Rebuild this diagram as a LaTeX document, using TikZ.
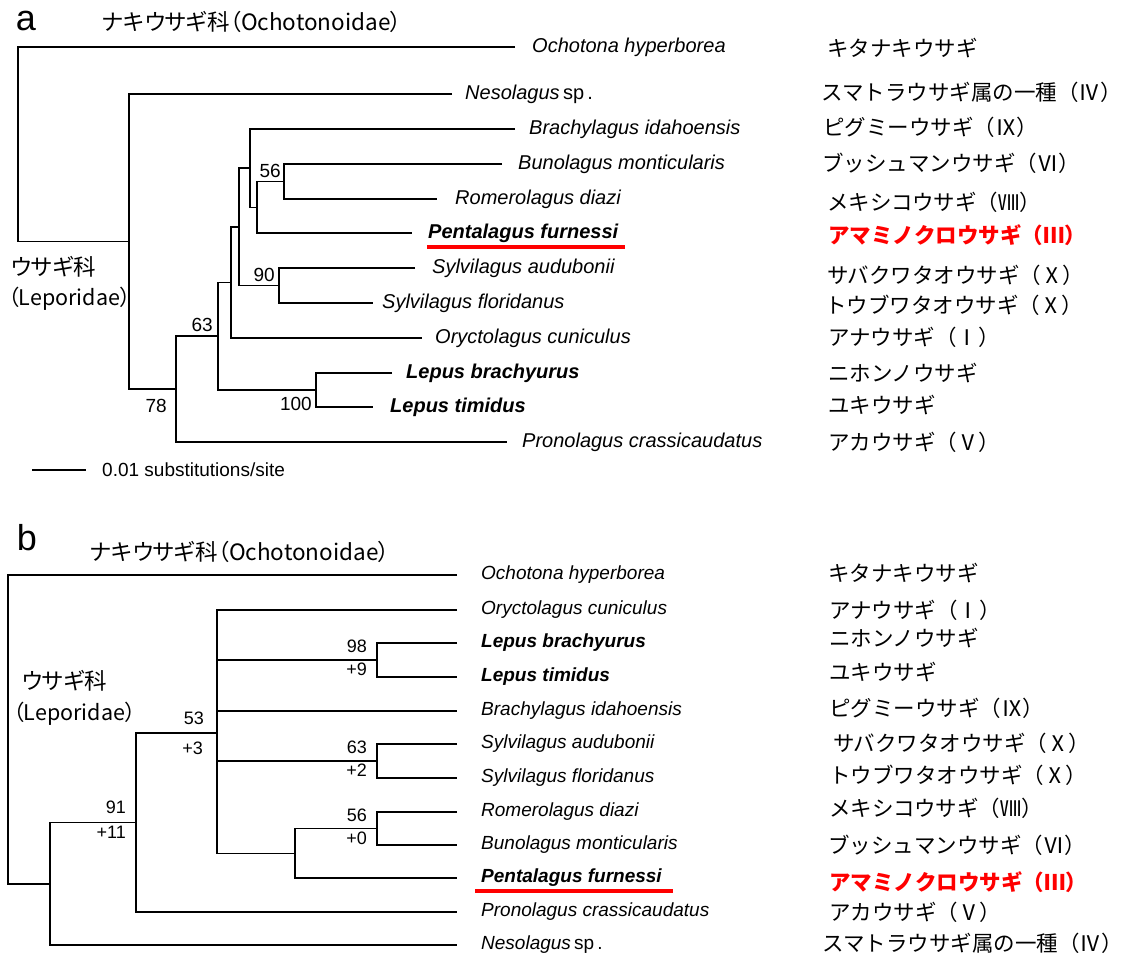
\documentclass[tikz,border=0pt]{standalone}
\usepackage{fontspec}
\setmainfont{Liberation Sans}
\newfontfamily\jpfont{Noto Sans CJK JP}
\newfontfamily\jpfontp[RawFeature=+palt]{Noto Sans CJK JP}
\usetikzlibrary{positioning}

\tikzstyle{branch} = [line width=1.5pt]
\tikzstyle{taxon} = [inner sep=0pt, anchor=west, font=\fontsize{20}{24}\selectfont\itshape]
\tikzstyle{taxbold} = [taxon, font=\fontsize{20}{24}\selectfont\bfseries\itshape]
\tikzstyle{taxonb} = [taxon, font=\fontsize{19}{23}\selectfont\itshape]
\tikzstyle{taxboldb} = [taxon, font=\fontsize{19}{23}\selectfont\bfseries\itshape]
\tikzstyle{boot} = [inner sep=0pt, font=\fontsize{19}{23}\selectfont]
\tikzstyle{bootb} = [inner sep=0pt, font=\fontsize{18}{22}\selectfont]
\tikzstyle{jp} = [inner sep=0pt, anchor=west, font=\fontsize{21.5}{26}\selectfont\jpfont]
\tikzstyle{jpp} = [jp, font=\fontsize{22.5}{26}\selectfont\jpfontp]
\tikzstyle{fam} = [jp, font=\fontsize{21.5}{26}\selectfont\jpfontp]
\tikzstyle{jpred} = [jp, text=red, font=\fontsize{21.5}{26}\selectfont\jpfont\bfseries]
\tikzstyle{redline} = [red, line width=4pt]
\tikzstyle{panel} = [inner sep=0pt, font=\fontsize{36}{40}\selectfont]

\begin{document}
\begin{tikzpicture}[x=1pt, y=-1pt]
\useasboundingbox (0,0) rectangle (1124,958);

% ---------- panel a ----------
\node[panel] (alab) at (26,21) {a};
\node[jpp] (atitle) at (102,22) {ナキウサギ科（Ochotonoidae）};
\node[jpp] (afam) at (11,267) {ウサギ科};
\node[fam] (afamL) at (8,299) {（Leporidae）};

% tips
\coordinate (aOch) at (515,47);
\coordinate (aNes) at (452,94);
\coordinate (aBra) at (515,129);
\coordinate (aBun) at (502,164);
\coordinate (aRom) at (437,199);
\coordinate (aPen) at (412,233);
\coordinate (aSyA) at (415,268);
\coordinate (aSyF) at (373,303);
\coordinate (aOry) at (422,338);
\coordinate (aLeB) at (392,373);
\coordinate (aLeT) at (373,407);
\coordinate (aPro) at (507,442);
% inner nodes
\coordinate (aRoot) at (18,144);
\coordinate (aLep) at (129,241.6);
\coordinate (aN78) at (176,389.1);
\coordinate (aN63) at (218,336.2);
\coordinate (aNL) at (316,390);
\coordinate (aNO) at (231,282.4);
\coordinate (aNS) at (239,226.8);
\coordinate (aN90) at (279,285.5);
\coordinate (aNB) at (250,168.1);
\coordinate (aNBRP) at (257,207.25);
\coordinate (aN56) at (284,181.5);

\draw[branch] (aOch) -| (aRoot) |- (aLep);
\draw[branch] (aNes) -| (aLep) |- (aN78);
\draw[branch] (aN63) -| (aN78) |- (aPro);
\draw[branch] (aNO) -| (aN63) |- (aNL);
\draw[branch] (aLeB) -| (aNL) |- (aLeT);
\draw[branch] (aNS) -| (aNO) |- (aOry);
\draw[branch] (aNB) -| (aNS) |- (aN90);
\draw[branch] (aSyA) -| (aN90) |- (aSyF);
\draw[branch] (aBra) -| (aNB) |- (aNBRP);
\draw[branch] (aN56) -| (aNBRP) |- (aPen);
\draw[branch] (aBun) -| (aN56) |- (aRom);

\node[taxon, right=17pt of aOch] (aOchT) {Ochotona hyperborea};
\node[taxon, right=13pt of aNes] (aNesT) {Nesolagus\,\textup{sp\,.}};
\node[taxon, right=14pt of aBra] (aBraT) {Brachylagus idahoensis};
\node[taxon, right=16pt of aBun] (aBunT) {Bunolagus monticularis};
\node[taxon, right=18pt of aRom] (aRomT) {Romerolagus diazi};
\node[taxbold, right=16pt of aPen] (aPenT) {Pentalagus furnessi};
\node[taxon, right=17pt of aSyA] (aSyAT) {Sylvilagus audubonii};
\node[taxon, right=9pt of aSyF] (aSyFT) {Sylvilagus floridanus};
\node[taxon, right=13pt of aOry] (aOryT) {Oryctolagus cuniculus};
\node[taxbold, right=14pt of aLeB] (aLeBT) {Lepus brachyurus};
\node[taxbold, right=17pt of aLeT] (aLeTT) {Lepus timidus};
\node[taxon, right=15pt of aPro] (aProT) {Pronolagus crassicaudatus};
\draw[redline] ([xshift=-1pt,yshift=-4pt]aPenT.south west) -- ([xshift=7pt,yshift=-4pt]aPenT.south east);

\node[boot, above left=4pt and 3pt of aN56] (a56) {56};
\node[boot, above left=4pt and 4pt of aN90] (a90) {90};
\node[boot, above left=4pt and 5pt of aN63] (a63) {63};
\node[boot, below left=7pt and 4pt of aNL] (a100) {100};
\node[boot, below left=10pt and 9pt of aN78] (a78) {78};

% scale bar
\coordinate (sbL) at (32,470);
\coordinate (sbR) at (86,470);
\draw[line width=1.2pt] (sbL) -- (sbR);
\node[boot, right=16pt of sbR] (sbT) {0.01 substitutions/site};

\node[jp] (aOchJ) at (827,48) {キタナキウサギ};
\node[jp] (aNesJ) at (821,92) {スマトラウサギ属の一種（Ⅳ）};
\node[jp] (aBraJ) at (823,127) {ピグミーウサギ（Ⅸ）};
\node[jp] (aBunJ) at (822,163) {ブッシュマンウサギ（Ⅵ）};
\node[jp] (aRomJ) at (827,202) {メキシコウサギ（Ⅷ）};
\node[jpred] (aPenJ) at (828,235) {アマミノクロウサギ（Ⅲ）};
\node[jp] (aSyAJ) at (827,275) {サバクワタオウサギ（Ⅹ）};
\node[jp] (aSyFJ) at (825,305) {トウブワタオウサギ（Ⅹ）};
\node[jp] (aOryJ) at (828,337) {アナウサギ（Ⅰ）};
\node[jp] (aLeBJ) at (828,373) {ニホンノウサギ};
\node[jp] (aLeTJ) at (828,405) {ユキウサギ};
\node[jp] (aProJ) at (828,442) {アカウサギ（Ⅴ）};

% ---------- panel b ----------
\node[panel] (blab) at (27,538) {b};
\node[jpp] (btitle) at (90,552) {ナキウサギ科（Ochotonoidae）};
\node[jpp] (bfam) at (22,681) {ウサギ科};
\node[fam] (bfamL) at (13,714) {（Leporidae）};

% tips
\coordinate (bOch) at (457,575);
\coordinate (bOry) at (457,610);
\coordinate (bLeB) at (457,643);
\coordinate (bLeT) at (457,677);
\coordinate (bBra) at (457,711);
\coordinate (bSyA) at (457,744);
\coordinate (bSyF) at (457,778);
\coordinate (bRom) at (457,812);
\coordinate (bBun) at (457,845);
\coordinate (bPen) at (457,878);
\coordinate (bPro) at (457,912);
\coordinate (bNes) at (457,945);
% inner nodes
\coordinate (bRoot) at (8,729);
\coordinate (bNN) at (50,883.75);
\coordinate (bN91) at (136,822.5);
\coordinate (bN53) at (217,733);
\coordinate (bNL) at (377,660);
\coordinate (bNS) at (377,761);
\coordinate (bNRB) at (377,828.5);
\coordinate (bNRBP) at (295,853.25);

\draw[branch] (bOch) -| (bRoot) |- (bNN);
\draw[branch] (bN91) -| (bNN) |- (bNes);
\draw[branch] (bN53) -| (bN91) |- (bPro);
\draw[branch] (bOry) -| (bN53) |- (bNRBP);
\draw[branch] (bN53) |- (bNL);
\draw[branch] (bN53) |- (bBra);
\draw[branch] (bN53) |- (bNS);
\draw[branch] (bLeB) -| (bNL) |- (bLeT);
\draw[branch] (bSyA) -| (bNS) |- (bSyF);
\draw[branch] (bNRB) -| (bNRBP) |- (bPen);
\draw[branch] (bRom) -| (bNRB) |- (bBun);

\node[taxonb, right=24pt of bOch] (bOchT) {Ochotona hyperborea};
\node[taxonb, right=24pt of bOry] (bOryT) {Oryctolagus cuniculus};
\node[taxboldb, right=24pt of bLeB] (bLeBT) {Lepus brachyurus};
\node[taxboldb, right=24pt of bLeT] (bLeTT) {Lepus timidus};
\node[taxonb, right=24pt of bBra] (bBraT) {Brachylagus idahoensis};
\node[taxonb, right=24pt of bSyA] (bSyAT) {Sylvilagus audubonii};
\node[taxonb, right=24pt of bSyF] (bSyFT) {Sylvilagus floridanus};
\node[taxonb, right=24pt of bRom] (bRomT) {Romerolagus diazi};
\node[taxonb, right=24pt of bBun] (bBunT) {Bunolagus monticularis};
\node[taxboldb, right=24pt of bPen] (bPenT) {Pentalagus furnessi};
\node[taxonb, right=24pt of bPro] (bProT) {Pronolagus crassicaudatus};
\node[taxonb, right=24pt of bNes] (bNesT) {Nesolagus\,\textup{sp\,.}};
\draw[redline] ([xshift=-6pt,yshift=-4pt]bPenT.south west) -- ([xshift=11pt,yshift=-4pt]bPenT.south east);

\node[bootb, above left=7pt and 10pt of bNL] (b98) {98};
\node[bootb, below left=3pt and 10pt of bNL] (b9) {+9};
\node[bootb, above left=7pt and 10pt of bNS] (b63) {63};
\node[bootb, below left=3pt and 10pt of bNS] (b2) {+2};
\node[bootb, above left=7pt and 10pt of bNRB] (b56) {56};
\node[bootb, below left=3pt and 10pt of bNRB] (b0) {+0};
\node[bootb, above left=8pt and 13pt of bN53] (b53) {53};
\node[bootb, below left=9pt and 14pt of bN53] (b3) {+3};
\node[bootb, above left=9pt and 10pt of bN91] (b91) {91};
\node[bootb, below left=3pt and 10pt of bN91] (b11) {+11};

\node[jp] (bOchJ) at (828,573) {キタナキウサギ};
\node[jp] (bOryJ) at (829,610) {アナウサギ（Ⅰ）};
\node[jp] (bLeBJ) at (829,638) {ニホンノウサギ};
\node[jp] (bLeTJ) at (829,672) {ユキウサギ};
\node[jp] (bBraJ) at (829,708) {ピグミーウサギ（Ⅸ）};
\node[jp] (bSyAJ) at (833,743) {サバクワタオウサギ（Ⅹ）};
\node[jp] (bSyFJ) at (829,775) {トウブワタオウサギ（Ⅹ）};
\node[jp] (bRomJ) at (829,808) {メキシコウサギ（Ⅷ）};
\node[jp] (bBunJ) at (828,845) {ブッシュマンウサギ（Ⅵ）};
\node[jpred] (bPenJ) at (829,882) {アマミノクロウサギ（Ⅲ）};
\node[jp] (bProJ) at (829,912) {アカウサギ（Ⅴ）};
\node[jp] (bNesJ) at (822,943) {スマトラウサギ属の一種（Ⅳ）};
\end{tikzpicture}
\end{document}
